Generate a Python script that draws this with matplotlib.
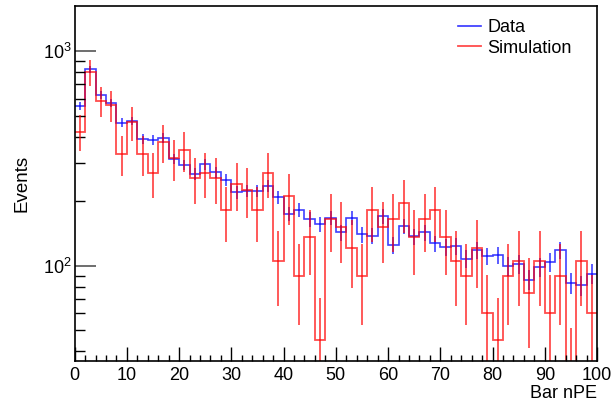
import numpy as np
import matplotlib
matplotlib.use("Agg")
import matplotlib.pyplot as plt
from matplotlib.lines import Line2D
from matplotlib.ticker import MultipleLocator, LogLocator, NullFormatter

plt.rcParams['font.family'] = ['Liberation Sans', 'DejaVu Sans']
plt.rcParams['mathtext.fontset'] = 'custom'
plt.rcParams['mathtext.rm'] = 'Liberation Sans'

# 50 bins of width 2 in Bar nPE, 0..100
bin_edges = np.arange(0, 101, 2)

data_counts = [555, 822, 624, 573, 464, 472, 390, 385, 394, 315,
               295, 268, 298, 273, 251, 220, 224, 224, 236, 208,
               175, 182, 165, 156, 167, 143, 167, 140, 138, 170,
               125, 153, 137, 143, 127, 122, 123, 108, 118, 111,
               112, 100, 102, 86, 99, 104, 118, 83, 81, 92]
data_err = [23.6, 28.7, 25.0, 23.9, 21.5, 21.7, 19.7, 19.6, 19.8, 17.7,
            17.2, 16.4, 17.3, 16.5, 15.8, 14.8, 15.0, 15.0, 15.4, 14.4,
            13.2, 13.5, 12.8, 12.5, 12.9, 12.0, 12.9, 11.8, 11.7, 13.0,
            11.2, 12.4, 11.7, 12.0, 11.3, 11.0, 11.1, 10.4, 10.9, 10.5,
            10.6, 10.0, 10.1, 9.3, 9.9, 10.2, 10.9, 9.1, 9.0, 9.6]

sim_counts = [422, 799, 588, 558, 332, 467, 332, 271, 377, 316,
              347, 256, 271, 256, 181, 241, 226, 181, 271, 105,
              211, 90, 136, 45, 166, 151, 121, 90, 181, 151,
              166, 196, 136, 166, 181, 136, 105, 90, 121, 60,
              45, 90, 105, 75, 105, 60, 90, 30, 105, 60]
sim_err = [79.7, 109.7, 94.1, 91.7, 70.7, 83.9, 70.7, 63.9, 75.4, 69.1,
           72.3, 62.1, 63.9, 62.1, 52.2, 60.3, 58.4, 52.2, 63.9, 39.9,
           56.4, 36.9, 45.2, 26.1, 50.0, 47.7, 42.6, 36.9, 52.2, 47.7,
           50.0, 54.3, 45.2, 50.0, 52.2, 45.2, 39.9, 36.9, 42.6, 30.1,
           26.1, 36.9, 39.9, 33.7, 39.9, 30.1, 36.9, 21.3, 39.9, 30.1]

blue = (0.0, 0.0, 1.0)
red = (1.0, 0.0, 0.0)

fig = plt.figure(figsize=(6.12, 4.07), dpi=100)
ax = fig.add_axes([0.122, 0.113, 0.8535, 0.872])

centers = 0.5 * (bin_edges[:-1] + bin_edges[1:])

# data
ax.stairs(data_counts, bin_edges, baseline=None, color=blue, lw=1.2, alpha=0.75)
ax.errorbar(centers, data_counts, yerr=data_err, fmt='none', ecolor=blue,
            elinewidth=1.2, alpha=0.75, capsize=0)

# simulation
ax.stairs(sim_counts, bin_edges, baseline=None, color=red, lw=1.3, alpha=0.7)
ax.errorbar(centers, sim_counts, yerr=sim_err, fmt='none', ecolor=red,
            elinewidth=1.3, alpha=0.7, capsize=0)

ax.set_yscale('log')
ax.set_xlim(0, 100)
ax.set_ylim(36, 1620)

ax.xaxis.set_major_locator(MultipleLocator(10))
ax.xaxis.set_minor_locator(MultipleLocator(2))
ax.yaxis.set_major_locator(LogLocator(base=10))
ax.yaxis.set_minor_locator(LogLocator(base=10, subs=np.arange(2, 10)))
ax.yaxis.set_minor_formatter(NullFormatter())

ax.tick_params(axis='x', which='major', direction='in', length=10, width=1,
               labelsize=13, top=False, pad=4)
ax.tick_params(axis='x', which='minor', direction='in', length=4.5, width=1, top=False)
ax.tick_params(axis='y', which='major', direction='in', length=15, width=1.2,
               color='#555555', labelsize=13, right=False, pad=2)
ax.tick_params(axis='y', which='minor', direction='in', length=7.5, width=1, right=False)

for s in ax.spines.values():
    s.set_linewidth(1.2)

ax.set_xlabel('Bar nPE', fontsize=13, loc='right', labelpad=1)
ax.set_ylabel('Events', fontsize=13.5, labelpad=9)

handles = [Line2D([0], [0], color=blue, lw=1.2, alpha=0.8),
           Line2D([0], [0], color=red, lw=1.3, alpha=0.7)]
ax.legend(handles, ['Data', 'Simulation'], loc='upper left',
          bbox_to_anchor=(0.748, 0.953), bbox_transform=fig.transFigure,
          frameon=False, fontsize=13, handlelength=1.3, handletextpad=0.35,
          labelspacing=0.2, borderpad=0, borderaxespad=0)

fig.savefig('out.png', dpi=100)
